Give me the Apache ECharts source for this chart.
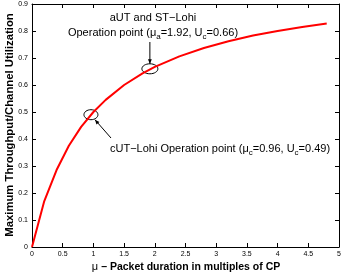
<!DOCTYPE html>
<html><head><meta charset="utf-8">
<script src="https://cdn.jsdelivr.net/npm/echarts@6/dist/echarts.min.js"></script>
<style>html,body{margin:0;padding:0;background:#fff}#c{width:344px;height:276px}</style>
</head><body><div id="c"></div>
<script>
var muValues = [0, 0.2, 0.4, 0.6, 0.8, 1.0, 1.2, 1.5, 1.8, 2.0, 2.4, 2.8, 3.2, 3.6, 4.0, 4.4, 4.8];
var utilValues = [0, 0.17, 0.285, 0.375, 0.445, 0.5, 0.545, 0.6, 0.643, 0.667, 0.706, 0.737, 0.762, 0.783, 0.8, 0.815, 0.828];
var xTicks = [0, 0.5, 1, 1.5, 2, 2.5, 3, 3.5, 4, 4.5, 5];
var yTicks = [0, 0.1, 0.2, 0.3, 0.4, 0.5, 0.6, 0.7, 0.8, 0.9];
var opPoints = [[0.96, 0.49], [1.92, 0.66]];

var FONT = 'Liberation Sans';
var chart = echarts.init(document.getElementById('c'));
var baseAxis = {
  axisLine: {show: true, onZero: false, lineStyle: {color: '#000', width: 1}},
  axisTick: {show: true, inside: true, length: 4, lineStyle: {color: '#000'}},
  splitLine: {show: false}
};
chart.setOption({
  animation: false,
  backgroundColor: '#fff',
  grid: {left: 32, right: 5, top: 4, bottom: 29, outerBoundsMode: 'none', containLabel: false},
  xAxis: [
    Object.assign({}, baseAxis, {type: 'value', min: 0, max: 5, interval: 0.5, position: 'bottom',
      axisLabel: {fontSize: 7, color: '#000', fontFamily: FONT, margin: 4}}),
    Object.assign({}, baseAxis, {type: 'value', min: 0, max: 5, interval: 0.5, position: 'top',
      axisLabel: {show: false}})
  ],
  yAxis: [
    Object.assign({}, baseAxis, {type: 'value', min: 0, max: 0.9, interval: 0.1, position: 'left',
      axisLabel: {fontSize: 7, color: '#000', fontFamily: FONT, margin: 4}}),
    Object.assign({}, baseAxis, {type: 'value', min: 0, max: 0.9, interval: 0.1, position: 'right',
      axisLabel: {show: false}})
  ],
  series: [{
    type: 'line', xAxisIndex: 0, yAxisIndex: 0, showSymbol: false, smooth: false,
    data: muValues.map(function (m, i) { return [m, utilValues[i]]; }),
    lineStyle: {color: '#ff0000', width: 2}
  }]
});

var p1 = chart.convertToPixel({xAxisIndex: 0, yAxisIndex: 0}, opPoints[0]);
var p2 = chart.convertToPixel({xAxisIndex: 0, yAxisIndex: 0}, opPoints[1]);
var rich = {
  n: {fontSize: 11, fontFamily: FONT, color: '#000'},
  s: {fontSize: 8, fontFamily: FONT, color: '#000', padding: [8, 0, 0, 0]},
  m: {fontSize: 11, fontFamily: FONT, color: '#000'},
  b: {fontSize: 10.5, fontFamily: FONT, fontWeight: 'bold', color: '#000'}
};
function arrow(x1, y1, x2, y2) {
  var a = Math.atan2(y2 - y1, x2 - x1), L = 5, w = 0.4;
  return [
    {type: 'line', shape: {x1: x1, y1: y1, x2: x2, y2: y2}, style: {stroke: '#000', lineWidth: 1}},
    {type: 'polygon', shape: {points: [[x2, y2],
      [x2 - L * Math.cos(a - w), y2 - L * Math.sin(a - w)],
      [x2 - L * Math.cos(a + w), y2 - L * Math.sin(a + w)]]}, style: {fill: '#000'}}
  ];
}
var g = [
  {type: 'ellipse', shape: {cx: p1[0], cy: p1[1], rx: 7, ry: 5}, style: {fill: 'none', stroke: '#000', lineWidth: 1}},
  {type: 'ellipse', shape: {cx: p2[0], cy: p2[1], rx: 8, ry: 5}, style: {fill: 'none', stroke: '#000', lineWidth: 1}},
  {type: 'text', x: 153, y: 18, style: {text: 'aUT and ST\u2212Lohi', font: '11px ' + FONT, fill: '#000', align: 'center', verticalAlign: 'middle'}},
  {type: 'text', x: 153, y: 33, style: {
    text: '{n|Operation point (\u03bc}{s|a}{n|=1.92, U}{s|c}{n|=0.66)}', rich: rich, align: 'center', verticalAlign: 'middle'}},
  {type: 'text', x: 110, y: 149, style: {
    text: '{n|cUT\u2212Lohi Operation point (\u03bc}{s|c}{n|=0.96, U}{s|c}{n|=0.49)}', rich: rich, align: 'left', verticalAlign: 'middle'}},
  {type: 'text', x: 186, y: 267, style: {
    text: '{m|\u03bc }{b|\u2013 Packet duration in multiples of CP}', rich: rich, align: 'center', verticalAlign: 'middle'}},
  {type: 'text', x: 10, y: 125, rotation: Math.PI / 2, style: {
    text: 'Maximum Throughput/Channel Utilization', font: 'bold 11.3px ' + FONT, fill: '#000', align: 'center', verticalAlign: 'middle'}}
];
g = g.concat(arrow(p2[0], 42, p2[0], p2[1] - 5));
g = g.concat(arrow(111, 138, p1[0] + 4, p1[1] + 5));
chart.setOption({graphic: g});
</script>
</body></html>
